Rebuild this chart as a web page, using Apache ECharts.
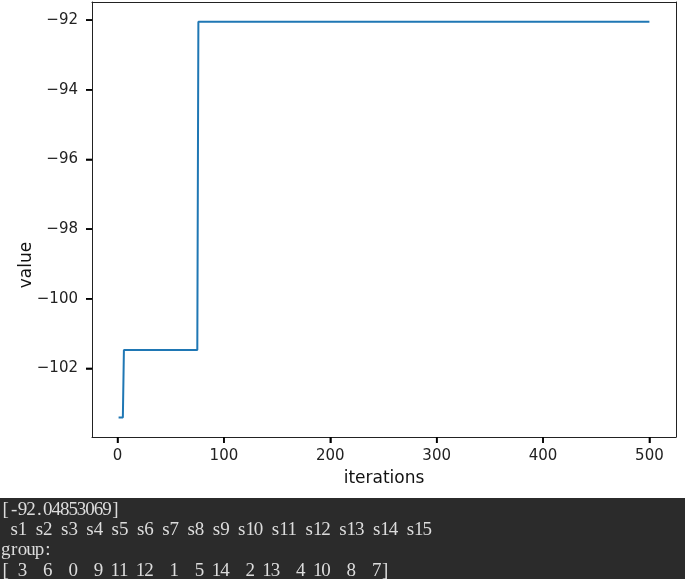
<!DOCTYPE html>
<html>
<head>
<meta charset="utf-8">
<script src="https://cdn.jsdelivr.net/npm/echarts@6/dist/echarts.min.js"></script>
<style>html,body{margin:0;padding:0;background:#fff}#c{width:685px;height:579px}</style>
</head>
<body>
<div id="c"></div>
<script>
// Step points: [iteration, value]
const iterations = [1, 5, 6, 75, 76, 500];
const values = [-103.41, -103.41, -101.47, -101.47, -92.0485, -92.0485];
const xTicks = [0, 100, 200, 300, 400, 500];
const yTicks = [-102, -100, -98, -96, -94, -92];
const bestValue = '-92.04853069';
const sampleNames = ['s1','s2','s3','s4','s5','s6','s7','s8','s9','s10','s11','s12','s13','s14','s15'];
const group = [3, 6, 0, 9, 11, 12, 1, 5, 14, 2, 13, 4, 10, 8, 7];

const chart = echarts.init(document.getElementById('c'), null, {renderer: 'canvas'});

const lineData = iterations.map((x, i) => [x, values[i]]);

// console text lines
const line1 = '[' + bestValue + ']';
const line2 = ' ' + sampleNames.join(' ');
const line3 = 'group:';
const line4 = '[' + group.map(v => String(v).padStart(2, ' ')).join(' ') + ']';
const consoleLines = [line1, line2, line3, line4];
const charW = 8.43;
const lineY = [510, 530, 550, 571];
const consoleEls = [{
  type: 'rect', shape: {x: 0, y: 498, width: 685, height: 81},
  style: {fill: '#2b2b2b'}, silent: true
}];
consoleLines.forEach((ln, li) => {
  for (let k = 0; k < ln.length; k++) {
    const ch = ln[k];
    if (ch === ' ') continue;
    consoleEls.push({
      type: 'text', x: 1.5 + k * charW + charW / 2, y: lineY[li],
      style: {text: ch, fill: '#dcdcdc', font: '19px "Liberation Serif"',
              textAlign: 'center', textVerticalAlign: 'middle'},
      silent: true
    });
  }
});

const tickFont = {fontFamily: 'DejaVu Sans', fontSize: 15, color: '#222'};
const frameLine = {show: true, onZero: false, lineStyle: {color: '#222', width: 1}};
const xMin = -24, xMax = 525, yMin = -103.97, yMax = -91.48;
const TICK_LEN = 6;

chart.setOption({
  animation: false,
  backgroundColor: '#fff',
  grid: {left: 92, right: 9, top: 2, bottom: 142},
  xAxis: [{
    type: 'value', min: xMin, max: xMax,
    name: 'iterations', nameLocation: 'middle', nameGap: 33,
    nameTextStyle: {fontFamily: 'DejaVu Sans', fontSize: 17, color: '#111'},
    axisLine: frameLine,
    axisTick: {show: true, length: TICK_LEN, lineStyle: {color: '#000', width: 1.5}, customValues: xTicks},
    axisLabel: Object.assign({margin: 12, customValues: xTicks}, tickFont),
    splitLine: {show: false}
  }, {
    type: 'value', position: 'top', min: xMin, max: xMax,
    axisLine: frameLine, axisTick: {show: false}, axisLabel: {show: false}, splitLine: {show: false}
  }],
  yAxis: [{
    type: 'value', min: yMin, max: yMax,
    axisLine: frameLine,
    axisTick: {show: true, length: TICK_LEN, lineStyle: {color: '#000', width: 1.5}, customValues: yTicks},
    axisLabel: Object.assign({margin: 14, customValues: yTicks,
      formatter: v => (v < 0 ? '\u2212' + Math.abs(v) : String(v))}, tickFont),
    splitLine: {show: false}
  }, {
    type: 'value', position: 'right', min: yMin, max: yMax,
    axisLine: frameLine, axisTick: {show: false}, axisLabel: {show: false}, splitLine: {show: false}
  }],
  series: [{
    type: 'line', data: lineData, showSymbol: false, symbol: 'none',
    xAxisIndex: 0, yAxisIndex: 0,
    lineStyle: {color: '#1f77b4', width: 2}
  }, {
    type: 'custom', xAxisIndex: 0, yAxisIndex: 0, silent: true, clip: false, z: 10,
    data: xTicks.map(v => [v, yMin]),
    renderItem: (params, api) => {
      const p = api.coord([api.value(0), yMin]);
      return {type: 'line', shape: {x1: p[0], y1: p[1], x2: p[0], y2: p[1] + TICK_LEN},
              style: {stroke: '#000', lineWidth: 1.5}};
    }
  }, {
    type: 'custom', xAxisIndex: 0, yAxisIndex: 0, silent: true, clip: false, z: 10,
    data: yTicks.map(v => [xMin, v]),
    renderItem: (params, api) => {
      const p = api.coord([xMin, api.value(1)]);
      return {type: 'line', shape: {x1: p[0] - TICK_LEN, y1: p[1], x2: p[0], y2: p[1]},
              style: {stroke: '#000', lineWidth: 1.5}};
    }
  }],
  graphic: [{
    type: 'text', x: 27, y: 265, rotation: Math.PI / 2,
    style: {text: 'value', fill: '#111', font: '17px "DejaVu Sans"', textAlign: 'center', textVerticalAlign: 'middle'},
    silent: true
  }].concat(consoleEls)
});
</script>
</body>
</html>
